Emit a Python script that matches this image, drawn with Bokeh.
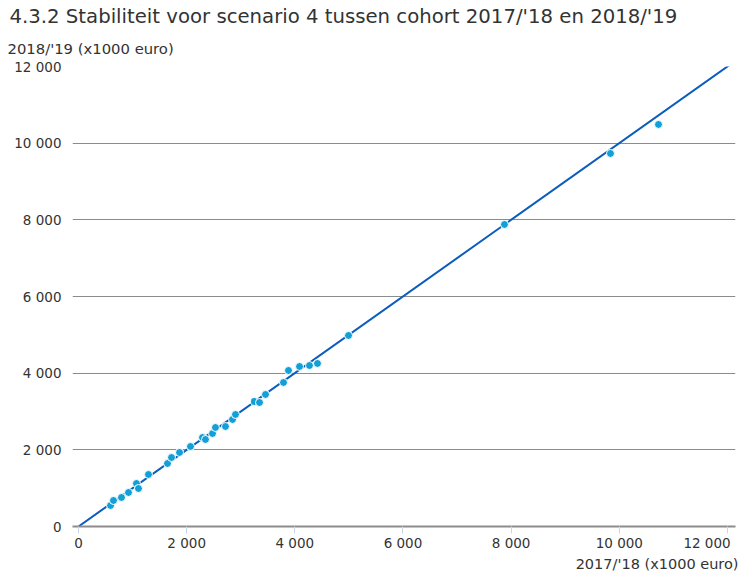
from bokeh.plotting import figure
from bokeh.models import Range1d, FixedTicker, Title, ColumnDataSource
from bokeh.embed import file_html
from bokeh.resources import INLINE

title_text = "4.3.2 Stabiliteit voor scenario 4 tussen cohort 2017/'18 en 2018/'19"
x_title = "2017/'18 (x1000 euro)"
y_title = "2018/'19 (x1000 euro)"

cohort_2017_18 = [592, 647, 795, 925, 1072, 1109, 1294, 1646, 1720, 1868, 2071, 2293,
                  2348, 2478, 2533, 2718, 2848, 2903, 3254, 3347, 3458, 3791, 3883,
                  4087, 4271, 4419, 4993, 7877, 9837, 10725]
cohort_2018_19 = [548, 678, 757, 887, 1122, 991, 1357, 1644, 1800, 1931, 2087, 2322,
                  2270, 2426, 2583, 2609, 2792, 2922, 3261, 3235, 3444, 3757, 4070,
                  4174, 4200, 4253, 4983, 7879, 9731, 10488]

trend_x = [0, 12150]
trend_y = [0, 12150]

tick_values = [0, 2000, 4000, 6000, 8000, 10000, 12000]
tick_labels = ["0", "2 000", "4 000", "6 000", "8 000", "10 000", "12 000"]

FONT = "DejaVu Sans"
TXT = "#333333"

p = figure(width=743, height=571, output_backend="svg", toolbar_location=None,
           x_range=Range1d(-111, 12149), y_range=Range1d(0, 12000),
           min_border_left=72, min_border_right=8, min_border_top=66,
           min_border_bottom=45)
p.outline_line_color = None
p.background_fill_color = "white"
p.border_fill_color = "white"

# titles (y-axis title sits directly above the plot area, main title above it)
p.add_layout(Title(text=y_title, align="left", offset=-65, standoff=20,
                   text_font=FONT, text_font_size="14.8px",
                   text_font_style="normal", text_color=TXT), "above")
p.title.text = title_text
p.title.align = "left"
p.title.offset = -63
p.title.standoff = 0
p.title.text_font = FONT
p.title.text_font_size = "19.7px"
p.title.text_font_style = "normal"
p.title.text_color = TXT

p.xgrid.visible = False
p.ygrid.ticker = FixedTicker(ticks=tick_values)
p.ygrid.grid_line_color = "#8c8c8c"
p.ygrid.grid_line_width = 1

# y axis
p.yaxis.ticker = FixedTicker(ticks=tick_values)
p.yaxis.major_label_overrides = {v: l for v, l in zip(tick_values, tick_labels)}
p.yaxis.axis_line_color = None
p.yaxis.major_tick_line_color = None
p.yaxis.minor_tick_line_color = None
p.yaxis.major_tick_out = 0
p.yaxis.major_tick_in = 0
p.yaxis.major_label_standoff = 11
p.yaxis.major_label_text_font = FONT
p.yaxis.major_label_text_font_size = "13.5px"
p.yaxis.major_label_text_color = TXT

# x axis (last label padded so that it stays inside the chart, as in the original)
x_overrides = {v: l for v, l in zip(tick_values, tick_labels)}
x_overrides[tick_values[-1]] = tick_labels[-1] + "\u00a0" * 3
p.xaxis.ticker = FixedTicker(ticks=tick_values)
p.xaxis.major_label_overrides = x_overrides
p.xaxis.axis_line_color = "#8c8c8c"
p.xaxis.axis_line_width = 2
p.xaxis.major_tick_line_color = "#ccd6eb"
p.xaxis.major_tick_out = 7
p.xaxis.major_tick_in = 0
p.xaxis.minor_tick_line_color = None
p.xaxis.major_label_standoff = 1
p.xaxis.major_label_text_font = FONT
p.xaxis.major_label_text_font_size = "13.5px"
p.xaxis.major_label_text_color = TXT

p.add_layout(Title(text=x_title, align="right", offset=-3, standoff=0,
                   text_font=FONT, text_font_size="14.5px",
                   text_font_style="normal", text_color=TXT), "below")

src = ColumnDataSource(data=dict(x=cohort_2017_18, y=cohort_2018_19))
p.line(trend_x, trend_y, line_color="#0a5cbd", line_width=2)
p.scatter("x", "y", source=src, size=8, fill_color="#12a0d7",
          line_color="white", line_width=1)

open("out.html", "w").write(file_html(p, INLINE))
